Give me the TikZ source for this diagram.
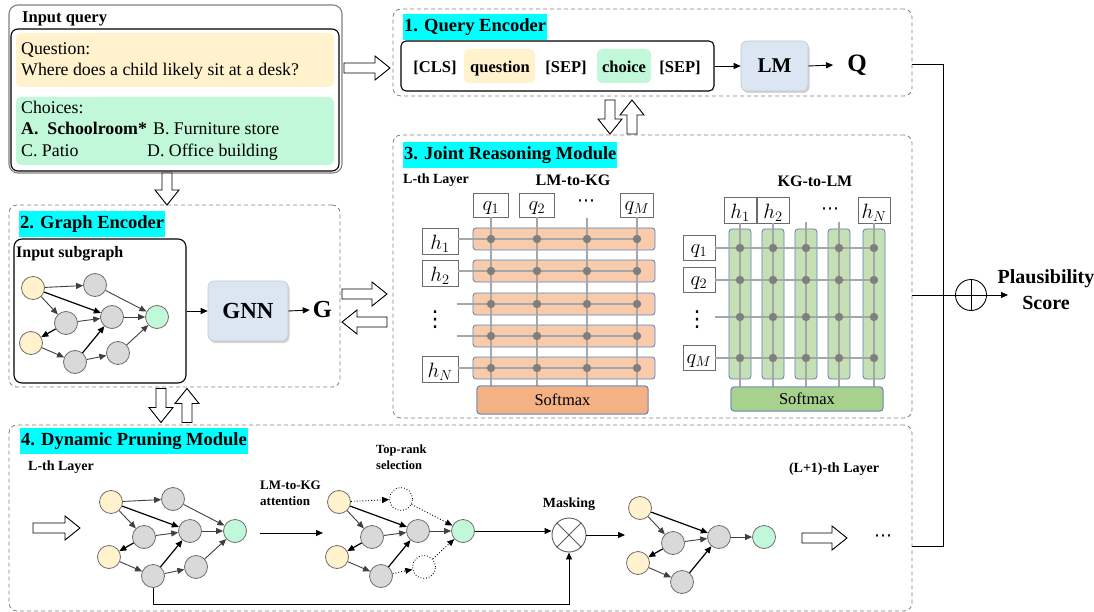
\documentclass[tikz,border=0pt]{standalone}
\usepackage{fontspec}
\setmainfont{Liberation Serif}
\newfontfamily\djv{DejaVu Sans}
\usetikzlibrary{arrows.meta,shadows,fit}
\definecolor{qfill}{HTML}{FFF2CC}
\definecolor{cfill}{HTML}{C1F8D9}
\definecolor{lmfill}{HTML}{DCE6F2}
\definecolor{ttl}{HTML}{00FFFF}
\definecolor{dashc}{HTML}{808080}
\definecolor{obarc}{HTML}{F8CBAD}
\definecolor{osmx}{HTML}{F4B183}
\definecolor{gbarc}{HTML}{C5E0B4}
\definecolor{gsmx}{HTML}{A9D18E}
\definecolor{barb}{HTML}{5B7FB8}
\definecolor{gline}{HTML}{A6A6A6}
\definecolor{gdot}{HTML}{7F7F7F}
\definecolor{kngray}{HTML}{D9D9D9}
\definecolor{knedge}{HTML}{6E6E6E}
\definecolor{ylw}{HTML}{FFF2CC}
\definecolor{grn}{HTML}{C1F8D9}
\definecolor{edgec}{HTML}{404040}
\newcommand\fs[1]{\fontsize{#1}{#1}\selectfont}
\tikzset{
 module/.style={draw=dashc, rounded corners=8pt, line width=0.8pt, dash pattern=on 4pt off 3pt, inner sep=0pt},
 ttlnode/.style={fill=ttl, font=\fs{18.5}\bfseries, inner xsep=1pt, inner ysep=4.5pt, text height=13pt, text depth=4pt, anchor=north west},
 lmbox/.style={draw=gray!45, fill=lmfill, rounded corners=6pt, line width=0.6pt, drop shadow={opacity=0.35, shadow xshift=1.5pt, shadow yshift=-2pt}},
 hollow/.style={draw=black, line width=0.9pt, fill=white, line join=miter},
 kn/.style={circle, draw=knedge, fill=kngray, minimum size=23pt, inner sep=0pt, line width=0.8pt},
 ke/.style={draw=edgec, line width=0.9pt, -{Triangle[length=7pt,width=6pt]}},
 kb/.style={ke, draw=black, line width=1.2pt},
 dotn/.style={draw=black, dotted, fill=white, line width=0.9pt},
 dote/.style={dotted, draw=black},
 conn/.style={draw=black, line width=0.9pt, -{Triangle[length=7pt,width=6pt]}},
 lbl/.style={draw=gray!85!black, fill=white, line width=0.9pt, inner sep=0pt},
 mlbl/.style={inner sep=0pt, font=\fs{20}},
 vdl/.style={inner sep=0pt, font=\djv\fs{22}},
 hdl/.style={inner sep=0pt, font=\djv\fs{18}},
 gl/.style={draw=gline, line width=2.5pt},
 obar/.style={draw=barb, fill=obarc, rounded corners=3pt, line width=0.8pt, inner sep=0pt},
 gbar/.style={draw=barb, fill=gbarc, rounded corners=3pt, line width=0.8pt, inner sep=0pt},
 txt/.style={anchor=base west, inner sep=0pt, font=\fs{17.8}},
 tok/.style={anchor=base, inner sep=0pt, font=\fs{16.5}\bfseries},
 bl/.style={inner sep=0pt, font=\bfseries},
}
% hollow block arrow: name, centre x, centre y, length, direction angle
\newcommand\harr[5]{%
\begin{scope}[shift={(#2,#3)}, rotate=#5]
 \coordinate (#1) at (0,0);
 \draw[hollow] ({-#4/2},-5) -- ({#4/2-15},-5) -- ({#4/2-15},-12) -- ({#4/2},0)
   -- ({#4/2-15},12) -- ({#4/2-15},5) -- ({-#4/2},5) -- cycle;
\end{scope}}
\newcommand\kgraph[4]{%
\begin{scope}[shift={#1}, name prefix=#2-]
 \node[kn, fill=ylw] (y1) at (33,288) {};
 \node[kn, #3] (a) at (95,285) {};
 \node[kn] (b) at (66,323) {};
 \node[kn] (c) at (112,317) {};
 \node[kn, fill=grn] (g) at (157,317) {};
 \node[kn, fill=ylw] (y2) at (31,343) {};
 \node[kn] (d) at (75,362) {};
 \node[kn, #3] (e) at (118,353) {};
 \draw[ke, #4] (y1) -- (a);
 \draw[kb] (y1) -- (c);
 \draw[ke] (y1) -- (b);
 \draw[ke, #4] (a) -- (g);
 \draw[ke] (b) -- (c);
 \draw[ke] (c) -- (g);
 \draw[kb] (b) -- (y2);
 \draw[ke] (y2) -- (d);
 \draw[kb] (d) -- (c);
 \draw[ke, #4] (d) -- (e);
 \draw[ke, #4] (e) -- (g);
\end{scope}}
\begin{document}
\begin{tikzpicture}[x=1pt,y=-1pt]
\useasboundingbox (0,0) rectangle (1094,612);

% ---------- Input query
\node[draw=gray, line width=1.1pt, rounded corners=9pt, fit={(9,5)(342,173)}, inner sep=0pt] (inq) {};
\node[draw=black, line width=1.1pt, rounded corners=7pt, fit={(11,29)(339,171)}, inner sep=0pt] (inqin) {};
\node[fill=qfill, rounded corners=5pt, fit={(16,33)(334,87)}, inner sep=0pt] (qbox) {};
\node[fill=cfill, rounded corners=5pt, fit={(16,97)(334,165)}, inner sep=0pt] (cbox) {};
\node[anchor=base west, inner sep=0pt, font=\fs{16.5}\bfseries] (inqt) at (22,23) {Input query};
\node[txt] (qt1) at (21,55) {Question:};
\node[txt] (qt2) at (21,76) {Where does a child likely sit at a desk?};
\node[txt] (ct1) at (21,114) {Choices:};
\node[txt, font=\fs{17.8}\bfseries] (ca) at (21,135) {A.\ \ Schoolroom*};
\node[txt] (cb) at (153,135) {B. Furniture store};
\node[txt] (cc) at (21,157) {C. Patio};
\node[txt] (cd) at (147,157) {D. Office building};

% ---------- modules
\node[module, fit={(393,9)(912,96)}] (qe) {};
\node[module, fit={(9,205)(340,387)}] (ge) {};
\node[module, fit={(393,135)(912,418)}] (jrm) {};
\node[module, fit={(9,425)(912,611)}] (dpm) {};
\node[ttlnode] (qet) at (403,14) {1. Query Encoder};
\node[ttlnode] (get) at (19,211) {2. Graph Encoder};
\node[ttlnode] (jrmt) at (403,142) {3. Joint Reasoning Module};
\node[ttlnode] (dpmt) at (20,428) {4. Dynamic Pruning Module};

% ---------- Query encoder
\node[draw=black, line width=1.1pt, rounded corners=5pt, fit={(401,41)(714,91)}, inner sep=0pt] (qin) {};
\node[fill=qfill, rounded corners=5pt, fit={(464,49)(535,83)}, inner sep=0pt] (tokq) {};
\node[fill=cfill, rounded corners=5pt, fit={(597,49)(651,83)}, inner sep=0pt] (tokc) {};
\node[tok] (cls) at (435,73) {[CLS]};
\node[tok] (qword) at (500,73) {question};
\node[tok] (sep1) at (566,73) {[SEP]};
\node[tok] (cword) at (624,73) {choice};
\node[tok] (sep2) at (680,73) {[SEP]};
\node[lmbox, minimum width=67pt, minimum height=50pt, font=\fs{21}\bfseries] (lm) at (774.5,66) {LM};
\node[bl, font=\fs{25}\bfseries] (qsym) at (857,65) {Q};
\draw[conn] (qin.east |- lm) -- (lm.west);
\draw[conn] (lm.east) -- ([xshift=-14pt]qsym.west);

% ---------- Graph encoder
\node[draw=black, line width=1.1pt, rounded corners=8pt, fit={(14,239)(186,383)}, inner sep=0pt] (sub) {};
\node[anchor=base west, inner sep=0pt, font=\fs{16}\bfseries] (subt) at (16,258) {Input subgraph};
\kgraph{(0,0)}{p0}{}{}
\node[lmbox, minimum width=80pt, minimum height=60pt, font=\fs{23}\bfseries] (gnn) at (248,311) {GNN};
\node[bl, font=\fs{24.5}\bfseries] (gsym) at (322.5,310) {G};
\draw[conn] (sub.east |- gnn) -- (gnn.west);
\draw[conn] (gnn.east) -- ([xshift=-3pt]gsym.west);

% ---------- Joint reasoning: LM-to-KG
\node[anchor=base west, inner sep=0pt, font=\fs{14}\bfseries] (lth1) at (403,184) {L-th Layer};
\node[anchor=base, inner sep=0pt, font=\fs{16}\bfseries] (l2k) at (573,186) {LM-to-KG};
\foreach \y [count=\i] in {239,271,304,336,368}
  \node[obar, minimum width=182pt, minimum height=22pt] (orow\i) at (564,\y) {};
\node[lbl, minimum width=35pt, minimum height=24pt] (lq1) at (491,205) {};
\node[lbl, minimum width=35pt, minimum height=24pt] (lq2) at (537,205) {};
\node[lbl, minimum width=33pt, minimum height=24pt] (lqm) at (637,205) {};
\node[lbl, minimum width=36pt, minimum height=26pt] (lh1) at (440,241) {};
\node[lbl, minimum width=36pt, minimum height=26pt] (lh2) at (440,273) {};
\node[lbl, minimum width=36pt, minimum height=26pt] (lhn) at (440,369.5) {};
\node[obar, fill=osmx, fit={(477,386)(648,414)}] (smx1) {};
\coordinate (c3top) at (587,218);
\draw[gl] (lh1.east |- orow1) -- ([xshift=-15pt]orow1.east);
\draw[gl] (lh2.east |- orow2) -- ([xshift=-15pt]orow2.east);
\draw[gl] ([xshift=-16pt]orow3.west) -- ([xshift=-15pt]orow3.east);
\draw[gl] ([xshift=-16pt]orow4.west) -- ([xshift=-15pt]orow4.east);
\draw[gl] (lhn.east |- orow5) -- ([xshift=-15pt]orow5.east);
\draw[gl] (lq1.south) -- (lq1.south |- smx1.north);
\draw[gl] (lq2.south) -- (lq2.south |- smx1.north);
\draw[gl] (c3top) -- (c3top |- smx1.north);
\draw[gl] (lqm.south) -- (lqm.south |- smx1.north);
\foreach \x in {491,537,587,637} \foreach \y in {239,271,304,336,368}
  \fill[gdot] (\x,\y) circle (4.2pt);
\node[obar, fill=osmx, fit={(477,386)(648,414)}] (smx1b) {};
\node[inner sep=0pt, font=\fs{16.5}] (smx1t) at (smx1b.center) {Softmax};
\node[mlbl] (tq1) at (491,208) {$q_1$};
\node[mlbl] (tq2) at (537,208) {$q_2$};
\node[mlbl] (tqm) at (637,208) {$q_M$};
\node[hdl] (tdots1) at (586,203) {⋯};
\node[mlbl] (th1) at (440,244) {$h_1$};
\node[mlbl] (th2) at (440,276) {$h_2$};
\node[mlbl] (thn) at (440,372) {$h_N$};
\node[vdl] (tvd1) at (435,320) {⋮};

% ---------- Joint reasoning: KG-to-LM
\node[anchor=base, inner sep=0pt, font=\fs{16}\bfseries] (k2l) at (815,187) {KG-to-LM};
\foreach \x [count=\i] in {740,773,806,839,874}
  \node[gbar, minimum width=22pt, minimum height=150pt] (gcol\i) at (\x,304) {};
\node[lbl, minimum width=32pt, minimum height=26pt] (kh1) at (740,210) {};
\node[lbl, minimum width=32pt, minimum height=26pt] (kh2) at (773,210) {};
\node[lbl, minimum width=32pt, minimum height=26pt] (khn) at (874,210) {};
\node[lbl, minimum width=32pt, minimum height=25pt] (kq1) at (699,248) {};
\node[lbl, minimum width=32pt, minimum height=25pt] (kq2) at (699,280) {};
\node[lbl, minimum width=32pt, minimum height=25pt] (kqm) at (699,358) {};
\coordinate (r3l) at (715,317);
\coordinate (c3t) at (806,222);
\coordinate (c4t) at (839,222);
\draw[gl] (kq1.east) -- (kq1.east -| gcol5.center) -- ++(4,0);
\draw[gl] (kq2.east) -- (kq2.east -| gcol5.center) -- ++(4,0);
\draw[gl] (r3l) -- (r3l -| gcol5.center) -- ++(4,0);
\draw[gl] (kqm.east) -- (kqm.east -| gcol5.center) -- ++(4,0);
\node[gbar, fill=gsmx, fit={(731,387)(883,411)}] (smx2) {};
\draw[gl] (kh1.south) -- (kh1.south |- smx2.north);
\draw[gl] (kh2.south) -- (kh2.south |- smx2.north);
\draw[gl] (c3t) -- (c3t |- smx2.north);
\draw[gl] (c4t) -- (c4t |- smx2.north);
\draw[gl] (khn.south) -- (khn.south |- smx2.north);
\foreach \x in {740,773,806,839,874} \foreach \y in {248,280,317,358}
  \fill[gdot] (\x,\y) circle (4.2pt);
\node[gbar, fill=gsmx, fit={(731,387)(883,411)}] (smx2b) {};
\node[inner sep=0pt, font=\fs{16.5}] (smx2t) at (smx2b.center) {Softmax};
\node[mlbl] (uh1) at (740,213) {$h_1$};
\node[mlbl] (uh2) at (773,213) {$h_2$};
\node[mlbl] (uhn) at (874,213) {$h_N$};
\node[hdl] (udots) at (830,211) {⋯};
\node[mlbl] (uq1) at (699,251) {$q_1$};
\node[mlbl] (uq2) at (699,283) {$q_2$};
\node[mlbl] (uqm) at (699,361) {$q_M$};
\node[vdl] (uvd) at (697,320) {⋮};

% ---------- Dynamic pruning
\node[anchor=base west, inner sep=0pt, font=\fs{14}\bfseries] (lth2) at (28,470) {L-th Layer};
\kgraph{(78,214)}{p1}{}{}
\kgraph{(306,214)}{p2}{dotn}{dote}
\begin{scope}[shift={(607,220)}, name prefix=p3-]
 \node[kn, fill=ylw] (y1) at (33,288) {};
 \node[kn] (b) at (66,323) {};
 \node[kn] (c) at (112,317) {};
 \node[kn, fill=grn] (g) at (157,317) {};
 \node[kn, fill=ylw] (y2) at (31,343) {};
 \node[kn] (d) at (75,362) {};
 \draw[kb] (y1) -- (c);
 \draw[ke] (y1) -- (b);
 \draw[ke] (b) -- (c);
 \draw[ke] (c) -- (g);
 \draw[kb] (b) -- (y2);
 \draw[ke] (y2) -- (d);
 \draw[kb] (d) -- (c);
\end{scope}
\node[anchor=base west, inner sep=0pt, font=\fs{13}\bfseries, align=left] (att) at (260,505) {LM-to-KG\\[3pt]attention};
\coordinate (att1) at (260,533);
\coordinate (att2) at (323,533);
\draw[conn] (att1) -- (att2);
\node[anchor=base west, inner sep=0pt, font=\fs{12.5}\bfseries] (topr1) at (376,453) {Top-rank};
\node[anchor=base west, inner sep=0pt, font=\fs{12.5}\bfseries] (topr2) at (376,469) {selection};
\node[circle, draw=gray!70!black, line width=0.9pt, minimum size=34pt, inner sep=0pt] (mask) at (569,535) {};
\draw[gray!70!black, line width=0.9pt] (mask.north west) -- (mask.south east) (mask.north east) -- (mask.south west);
\node[anchor=base, inner sep=0pt, font=\fs{14}\bfseries] (maskt) at (569,507) {Masking};
\draw[conn] (p2-g.east) -- (p2-g.east -| mask.west);
\coordinate (g3in) at (625,535);
\draw[conn] (mask.east) -- (g3in);
\coordinate (blc) at (0,604);
\draw[conn] (p1-d.south) -- (p1-d.south |- blc) -| (mask.south);
\node[anchor=base, inner sep=0pt, font=\fs{14}\bfseries] (lp1) at (834,472) {(L+1)-th Layer};
\node[hdl] (edots) at (883,538) {⋯};

% ---------- hollow block arrows
\harr{a1}{367}{68}{46}{0}
\harr{a2}{167}{189}{32}{270}
\harr{a3}{610}{117}{34}{270}
\harr{a4}{632}{117}{34}{90}
\harr{a5}{364.5}{294}{45}{0}
\harr{a6}{364.5}{322}{45}{180}
\harr{a7}{161}{405.5}{34}{270}
\harr{a8}{187}{405.5}{34}{90}
\harr{a9}{56.5}{528}{47}{0}
\harr{a10}{824.5}{538}{45}{0}

% ---------- output
\coordinate (rt) at (943,64);
\coordinate (rb) at (943,546);
\draw[line width=0.9pt] (qe.east |- rt) -- (rt) -- (rb) -- (dpm.east |- rb);
\node[circle, draw=black, line width=0.9pt, minimum size=31pt, inner sep=0pt] (oplus) at (971,295) {};
\draw[line width=0.9pt] (oplus.north) -- (oplus.south) (oplus.west) -- (oplus.east);
\draw[line width=0.9pt] (jrm.east |- oplus) -- (oplus.west);
\coordinate (sc) at (1008,295);
\draw[conn] (oplus.east) -- (sc);
\node[inner sep=0pt, font=\fs{20}\bfseries, align=center] (pscore) at (1046,290) {Plausibility\\[6pt]Score};
\end{tikzpicture}
\end{document}
